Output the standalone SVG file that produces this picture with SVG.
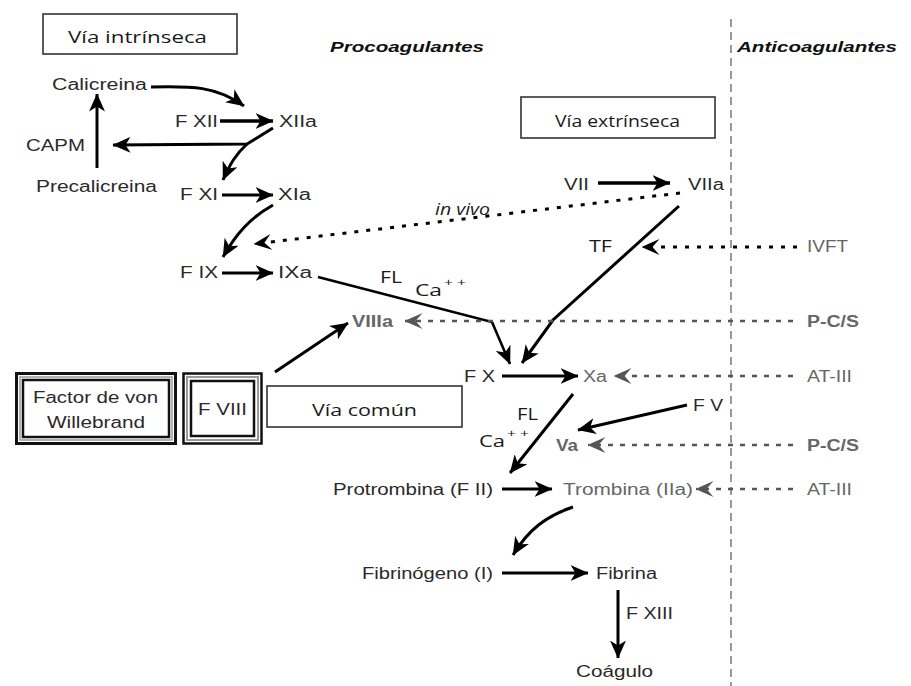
<svg xmlns="http://www.w3.org/2000/svg" width="911" height="686" viewBox="0 0 911 686">
<style>
text { font-family: "Liberation Sans", Arial, sans-serif; font-size: 16px; fill: #2a2a2a; }
.g { fill: #666; }
.b { font-weight: bold; }
.hdr { font-weight: bold; font-style: italic; font-size: 15px; fill: #111; }
.lbl { font-family: "Open Sans", "Liberation Sans", sans-serif; font-size: 16px; fill: #1a1a1a; }
.sup { font-size: 10px; }
.box { fill: #fff; stroke: #333; stroke-width: 1.6; }
.arr { fill: none; stroke: #000; stroke-width: 3; marker-end: url(#ah); }
.dotk { fill: none; stroke: #000; stroke-width: 3; stroke-dasharray: 4 8; }
.dotg { fill: none; stroke: #555; stroke-width: 2.5; stroke-dasharray: 5 7; }
.vline { fill: none; stroke: #999; stroke-width: 2; stroke-dasharray: 8 5; }
</style>
<defs>
<marker id="ah" markerUnits="userSpaceOnUse" viewBox="0 0 18 16" refX="17.5" refY="8" markerWidth="18" markerHeight="16" orient="auto">
<path d="M0,0 L18,8 L0,16 L5,8 Z" fill="#000"/>
</marker>
<marker id="ahk" markerUnits="userSpaceOnUse" viewBox="0 0 18 16" refX="17.5" refY="8" markerWidth="18" markerHeight="16" orient="auto">
<path d="M0,0 L18,8 L0,16 L7,8 Z" fill="#000"/>
</marker>
<marker id="ahg" markerUnits="userSpaceOnUse" viewBox="0 0 18 16" refX="17.5" refY="8" markerWidth="18" markerHeight="16" orient="auto">
<path d="M0,0 L18,8 L0,16 L7,8 Z" fill="#555"/>
</marker>
</defs>
<rect width="911" height="686" fill="#fff"/>

<!-- divider -->
<line class="vline" x1="731" y1="19" x2="731" y2="686"/>
<text class="hdr" x="330" y="52" textLength="154" lengthAdjust="spacingAndGlyphs">Procoagulantes</text>
<text class="hdr" x="737" y="52" textLength="160" lengthAdjust="spacingAndGlyphs">Anticoagulantes</text>

<g id="connectors">
  <path class="arr" d="M151,87 C192,86 216,86 244,106"/>
  <path class="arr" d="M220,121 L273,121" style="stroke-width:3.5"/>
  <path class="arr" d="M273,128 L247,144 L113,145"/>
  <path class="arr" d="M247,144 C236,154 230,164 223,180"/>
  <path class="arr" d="M97,168 L97,94"/>
  <path class="arr" d="M222,195 L273,195"/>
  <path class="arr" d="M273,205 C250,218 236,234 223,257"/>
  <path class="arr" d="M222,273 L273,273"/>
  <path class="arr" d="M598,183 L670,183" style="stroke-width:3.5"/>
  <path class="dotk" d="M680,193 L254,244" style="marker-end:url(#ahk)"/>
  <path class="arr" d="M679,206 L553,320 L522,363"/>
  <path class="arr" d="M318,277 L492,322 L510,364" style="stroke-width:2.6"/>
  <path class="arr" d="M275,372 L348,323"/>
  <path class="arr" d="M502,376 L578,376"/>
  <path class="arr" d="M573,394 L510,473"/>
  <path class="arr" d="M687,405 L578,430"/>
  <path class="arr" d="M502,489 L552,489"/>
  <path class="arr" d="M573,507 C546,516 528,530 513,555"/>
  <path class="arr" d="M502,573 L588,573"/>
  <path class="arr" d="M618,590 L618,658"/>
  <path class="dotk" d="M797,247 L642,247" style="marker-end:url(#ahk)"/>
  <path class="dotg" d="M793,321 L405,321" style="marker-end:url(#ahg)"/>
  <path class="dotg" d="M793,376 L614,376" style="marker-end:url(#ahg)"/>
  <path class="dotg" d="M793,445 L588,445" style="marker-end:url(#ahg)"/>
  <path class="dotg" d="M793,489 L696,489" style="marker-end:url(#ahg)"/>
</g>

<g id="via-intrinseca">
  <rect class="box" x="43" y="14" width="194" height="40"/>
  <text class="lbl" x="68" y="43" textLength="139" lengthAdjust="spacingAndGlyphs">Vía intrínseca</text>
</g>
<g id="via-extrinseca">
  <rect class="box" x="521" y="97" width="194" height="41"/>
  <text class="lbl" x="555" y="127" textLength="125" lengthAdjust="spacingAndGlyphs">Vía extrínseca</text>
</g>
<g id="via-comun">
  <rect class="box" x="267" y="386" width="195" height="41"/>
  <text class="lbl" x="312" y="416" textLength="105" lengthAdjust="spacingAndGlyphs">Vía común</text>
</g>
<g id="factor-von-willebrand">
  <rect x="16.5" y="373.5" width="159" height="70" fill="#fff" stroke="#111" stroke-width="3"/>
  <rect x="20" y="377" width="152" height="63" fill="none" stroke="#999" stroke-width="1.5"/>
  <rect x="23" y="380" width="146" height="57" fill="#fff" stroke="#111" stroke-width="2.5"/>
  <text x="33" y="403" textLength="125" lengthAdjust="spacingAndGlyphs">Factor de von</text>
  <text x="47" y="428" textLength="98" lengthAdjust="spacingAndGlyphs">Willebrand</text>
</g>
<g id="f-viii">
  <rect x="183.5" y="373.5" width="78" height="70" fill="#fff" stroke="#111" stroke-width="2.5"/>
  <rect x="187" y="377" width="71" height="63" fill="none" stroke="#999" stroke-width="2"/>
  <rect x="191" y="381" width="63" height="55" fill="#fff" stroke="#111" stroke-width="2.5"/>
  <text x="198" y="415" textLength="49" lengthAdjust="spacingAndGlyphs">F VIII</text>
</g>

<g id="calicreina"><text x="52" y="90" textLength="95" lengthAdjust="spacingAndGlyphs">Calicreina</text></g>
<g id="f-xii"><text x="175" y="127" textLength="43" lengthAdjust="spacingAndGlyphs">F XII</text></g>
<g id="xiia"><text x="279" y="127" textLength="38" lengthAdjust="spacingAndGlyphs">XIIa</text></g>
<g id="capm"><text x="26" y="151" textLength="59" lengthAdjust="spacingAndGlyphs">CAPM</text></g>
<g id="precalicreina"><text x="36" y="192" textLength="121" lengthAdjust="spacingAndGlyphs">Precalicreina</text></g>
<g id="f-xi"><text x="180" y="200" textLength="38" lengthAdjust="spacingAndGlyphs">F XI</text></g>
<g id="xia"><text x="278" y="200" textLength="33" lengthAdjust="spacingAndGlyphs">XIa</text></g>
<g id="f-ix"><text x="180" y="278" textLength="38" lengthAdjust="spacingAndGlyphs">F IX</text></g>
<g id="ixa"><text x="278" y="278" textLength="34" lengthAdjust="spacingAndGlyphs">IXa</text></g>
<g id="vii"><text x="564" y="190" textLength="25" lengthAdjust="spacingAndGlyphs">VII</text></g>
<g id="viia"><text x="688" y="190" textLength="36" lengthAdjust="spacingAndGlyphs">VIIa</text></g>
<g id="in-vivo"><text class="lbl" x="435" y="215" font-style="italic" textLength="55" lengthAdjust="spacingAndGlyphs">in vivo</text></g>
<g id="tf"><text class="lbl" x="589" y="252" textLength="23" lengthAdjust="spacingAndGlyphs">TF</text></g>
<g id="ivft"><text class="g" x="807" y="252" textLength="41" lengthAdjust="spacingAndGlyphs">IVFT</text></g>
<g id="fl-ca-1">
  <text class="lbl" x="380" y="283" textLength="22" lengthAdjust="spacingAndGlyphs">FL</text>
  <text class="lbl" x="415" y="296" textLength="27" lengthAdjust="spacingAndGlyphs">Ca</text>
  <text class="lbl sup" x="444" y="286" textLength="22" lengthAdjust="spacingAndGlyphs">+ +</text>
</g>
<g id="viiia"><text class="g b" x="352" y="327" textLength="41" lengthAdjust="spacingAndGlyphs">VIIIa</text></g>
<g id="pcs-1"><text class="g b" x="807" y="327" textLength="52" lengthAdjust="spacingAndGlyphs">P-C/S</text></g>
<g id="f-x"><text x="464" y="382" textLength="31" lengthAdjust="spacingAndGlyphs">F X</text></g>
<g id="xa"><text class="g" x="583" y="382" textLength="24" lengthAdjust="spacingAndGlyphs">Xa</text></g>
<g id="at-iii-1"><text class="g" x="807" y="382" textLength="45" lengthAdjust="spacingAndGlyphs">AT-III</text></g>
<g id="fl-ca-2">
  <text class="lbl" x="517" y="420" textLength="21" lengthAdjust="spacingAndGlyphs">FL</text>
  <text class="lbl" x="479" y="447" textLength="26" lengthAdjust="spacingAndGlyphs">Ca</text>
  <text class="lbl sup" x="507" y="437" textLength="22" lengthAdjust="spacingAndGlyphs">+ +</text>
</g>
<g id="f-v"><text x="693" y="411" textLength="30" lengthAdjust="spacingAndGlyphs">F V</text></g>
<g id="va"><text class="g b" x="556" y="451" textLength="22" lengthAdjust="spacingAndGlyphs">Va</text></g>
<g id="pcs-2"><text class="g b" x="807" y="451" textLength="52" lengthAdjust="spacingAndGlyphs">P-C/S</text></g>
<g id="protrombina"><text x="333" y="495" textLength="160" lengthAdjust="spacingAndGlyphs">Protrombina (F II)</text></g>
<g id="trombina"><text class="g" x="563" y="495" textLength="130" lengthAdjust="spacingAndGlyphs">Trombina (IIa)</text></g>
<g id="at-iii-2"><text class="g" x="807" y="495" textLength="45" lengthAdjust="spacingAndGlyphs">AT-III</text></g>
<g id="fibrinogeno"><text x="362" y="579" textLength="131" lengthAdjust="spacingAndGlyphs">Fibrinógeno (I)</text></g>
<g id="fibrina"><text x="596" y="579" textLength="61" lengthAdjust="spacingAndGlyphs">Fibrina</text></g>
<g id="f-xiii"><text x="626" y="619" textLength="47" lengthAdjust="spacingAndGlyphs">F XIII</text></g>
<g id="coagulo"><text x="576" y="677" textLength="77" lengthAdjust="spacingAndGlyphs">Coágulo</text></g>
</svg>
